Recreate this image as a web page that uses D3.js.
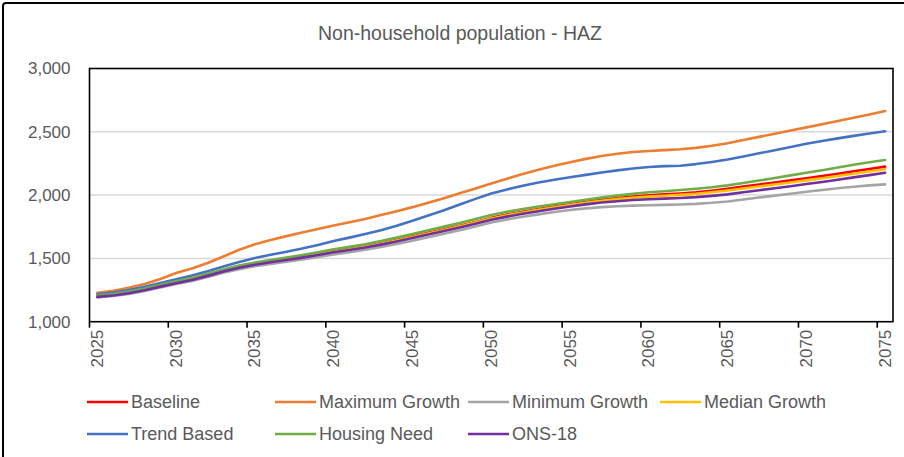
<!DOCTYPE html>
<html>
<head>
<meta charset="utf-8">
<script src="https://cdnjs.cloudflare.com/ajax/libs/d3/7.8.5/d3.min.js"></script>
<style>
  html, body { margin: 0; padding: 0; background: #fff; }
  svg { display: block; font-family: "Liberation Sans", Arial, sans-serif; }
</style>
</head>
<body>
<div id="chart"></div>
<script>
// categories
const years = d3.range(2025, 2076);
const xTickLabels = ['2025', '2030', '2035', '2040', '2045', '2050', '2055', '2060', '2065', '2070', '2075'];
const yTicks = [1000, 1500, 2000, 2500, 3000];

// series values, one per year 2025..2075
const baseline = [1205, 1216, 1234, 1258, 1286, 1314, 1340, 1372, 1406, 1436,
  1460, 1479, 1497, 1516, 1537, 1558, 1576, 1596, 1620, 1646,
  1674, 1702, 1730, 1758, 1788, 1820, 1846, 1868, 1889, 1909,
  1928, 1946, 1962, 1976, 1988, 1998, 2006, 2013, 2022, 2035,
  2050, 2067, 2084, 2100, 2116, 2133, 2150, 2169, 2188, 2206, 2225];
const maximumGrowth = [1229, 1245, 1268, 1297, 1338, 1385, 1420, 1464, 1515, 1568,
  1612, 1646, 1676, 1705, 1733, 1760, 1786, 1812, 1842, 1873,
  1905, 1940, 1976, 2014, 2053, 2092, 2130, 2166, 2200, 2231,
  2260, 2286, 2309, 2327, 2340, 2348, 2355, 2362, 2373, 2390,
  2410, 2435, 2460, 2485, 2510, 2535, 2560, 2586, 2611, 2637, 2664];
const minimumGrowth = [1192, 1203, 1220, 1243, 1270, 1297, 1322, 1353, 1386, 1415,
  1439, 1457, 1474, 1492, 1512, 1532, 1549, 1568, 1590, 1614,
  1640, 1667, 1694, 1722, 1752, 1784, 1808, 1829, 1848, 1866,
  1882, 1895, 1905, 1912, 1917, 1920, 1923, 1926, 1931, 1939,
  1950, 1965, 1981, 1996, 2011, 2026, 2040, 2054, 2066, 2077, 2085];
const medianGrowth = [1200, 1212, 1230, 1254, 1282, 1310, 1336, 1368, 1402, 1432,
  1456, 1475, 1493, 1512, 1533, 1553, 1571, 1591, 1615, 1641,
  1669, 1697, 1725, 1753, 1783, 1815, 1841, 1863, 1884, 1904,
  1922, 1940, 1955, 1968, 1979, 1988, 1995, 2002, 2010, 2022,
  2036, 2052, 2068, 2084, 2100, 2116, 2133, 2151, 2169, 2186, 2204];
const trendBased = [1216, 1230, 1250, 1276, 1305, 1336, 1364, 1398, 1436, 1472,
  1503, 1529, 1553, 1578, 1606, 1638, 1664, 1692, 1722, 1758,
  1798, 1838, 1880, 1925, 1970, 2012, 2045, 2074, 2099, 2121,
  2141, 2160, 2178, 2195, 2210, 2222, 2229, 2232, 2245, 2262,
  2281, 2305, 2330, 2355, 2380, 2405, 2427, 2448, 2468, 2487, 2504];
const housingNeed = [1207, 1219, 1238, 1262, 1291, 1320, 1346, 1378, 1413, 1443,
  1467, 1487, 1506, 1526, 1549, 1572, 1591, 1612, 1637, 1664,
  1693, 1722, 1751, 1780, 1811, 1843, 1868, 1890, 1910, 1928,
  1945, 1963, 1980, 1996, 2010, 2022, 2031, 2040, 2050, 2062,
  2077, 2095, 2115, 2135, 2156, 2176, 2197, 2218, 2240, 2259, 2277];
const ons18 = [1196, 1207, 1225, 1249, 1277, 1304, 1330, 1362, 1396, 1426,
  1450, 1469, 1487, 1506, 1527, 1548, 1566, 1586, 1609, 1634,
  1661, 1688, 1716, 1744, 1773, 1805, 1830, 1852, 1872, 1892,
  1910, 1927, 1941, 1952, 1961, 1967, 1972, 1977, 1984, 1994,
  2006, 2022, 2038, 2054, 2070, 2087, 2104, 2121, 2140, 2158, 2177];

const seriesNames = ['Baseline', 'Maximum Growth', 'Minimum Growth', 'Median Growth', 'Trend Based', 'Housing Need', 'ONS-18'];
const seriesValues = [baseline, maximumGrowth, minimumGrowth, medianGrowth, trendBased, housingNeed, ons18];
const seriesColors = ['#ff0000', '#ed7d31', '#a5a5a5', '#ffc000', '#4472c4', '#70ad47', '#7030a0'];

const W = 904, H = 457;
const plot = { left: 89.5, right: 893, top: 68.5, bottom: 321.7 };

const svg = d3.select('#chart').append('svg')
  .attr('width', W)
  .attr('height', H);

// outer chart frame (only top/left visible in the crop)
svg.append('rect')
  .attr('x', 3).attr('y', 3)
  .attr('width', W + 10).attr('height', H + 10)
  .attr('rx', 3)
  .attr('fill', '#fff')
  .attr('stroke', '#000')
  .attr('stroke-width', 2);

const x = d3.scaleBand().domain(years).range([plot.left, plot.right]).padding(0);
const y = d3.scaleLinear().domain([1000, 3000]).range([plot.bottom, plot.top]);
const cx = yr => x(yr) + x.bandwidth() / 2;

// title
svg.append('text')
  .attr('x', 460).attr('y', 33)
  .attr('text-anchor', 'middle')
  .attr('dominant-baseline', 'central')
  .style('font-size', '19.5px')
  .style('fill', '#595959')
  .text('Non-household population - HAZ');

// gridlines
svg.append('g').selectAll('line')
  .data(yTicks.filter(v => v > 1000 && v < 3000)).join('line')
  .attr('x1', plot.left).attr('x2', plot.right)
  .attr('y1', d => y(d)).attr('y2', d => y(d))
  .attr('stroke', '#d9d9d9')
  .attr('stroke-width', 1.5);

// y axis labels
const yAxis = d3.axisLeft(y).tickValues(yTicks).tickSize(0).tickPadding(19)
  .tickFormat(d3.format(','));
svg.append('g')
  .attr('transform', `translate(${plot.left},0)`)
  .call(yAxis)
  .call(g => g.select('.domain').remove())
  .call(g => g.selectAll('text')
    .style('font-size', '17px')
    .style('font-family', '"Liberation Sans", Arial, sans-serif')
    .attr('fill', '#595959'));

// lines
const line = d3.line()
  .x((d, i) => cx(years[i]))
  .y(d => y(d));

svg.append('g').selectAll('path')
  .data(seriesValues).join('path')
  .attr('d', d => line(d))
  .attr('fill', 'none')
  .attr('stroke', (d, i) => seriesColors[i])
  .attr('stroke-width', 2.6)
  .attr('stroke-linejoin', 'round')
  .attr('stroke-linecap', 'round');

// plot frame
svg.append('rect')
  .attr('x', plot.left).attr('y', plot.top)
  .attr('width', plot.right - plot.left)
  .attr('height', plot.bottom - plot.top)
  .attr('fill', 'none')
  .attr('stroke', '#000')
  .attr('stroke-width', 1.6);

// x axis ticks at category boundaries, labels at category centres
const tickYears = xTickLabels.map(Number);
svg.append('g').selectAll('line')
  .data(tickYears).join('line')
  .attr('x1', d => x(d)).attr('x2', d => x(d))
  .attr('y1', plot.bottom).attr('y2', plot.bottom + 6)
  .attr('stroke', '#000')
  .attr('stroke-width', 1.6);

svg.append('g').selectAll('text')
  .data(xTickLabels).join('text')
  .attr('transform', d => `translate(${cx(+d)},${plot.bottom + 8}) rotate(-90)`)
  .attr('text-anchor', 'end')
  .attr('dominant-baseline', 'central')
  .style('font-size', '17px')
  .style('fill', '#595959')
  .text(d => d);

// legend
const legendX = [87, 275, 468, 660];
const legendY = [402, 434];
const legend = svg.append('g').selectAll('g')
  .data(seriesNames).join('g')
  .attr('transform', (d, i) => `translate(${legendX[i % 4]},${legendY[Math.floor(i / 4)]})`);

legend.append('line')
  .attr('x1', 0).attr('x2', 41)
  .attr('y1', 0).attr('y2', 0)
  .attr('stroke', (d, i) => seriesColors[i])
  .attr('stroke-width', 2.6);

legend.append('text')
  .attr('x', 44)
  .attr('dominant-baseline', 'central')
  .style('font-size', '18px')
  .style('fill', '#595959')
  .text(d => d);
</script>
</body>
</html>
